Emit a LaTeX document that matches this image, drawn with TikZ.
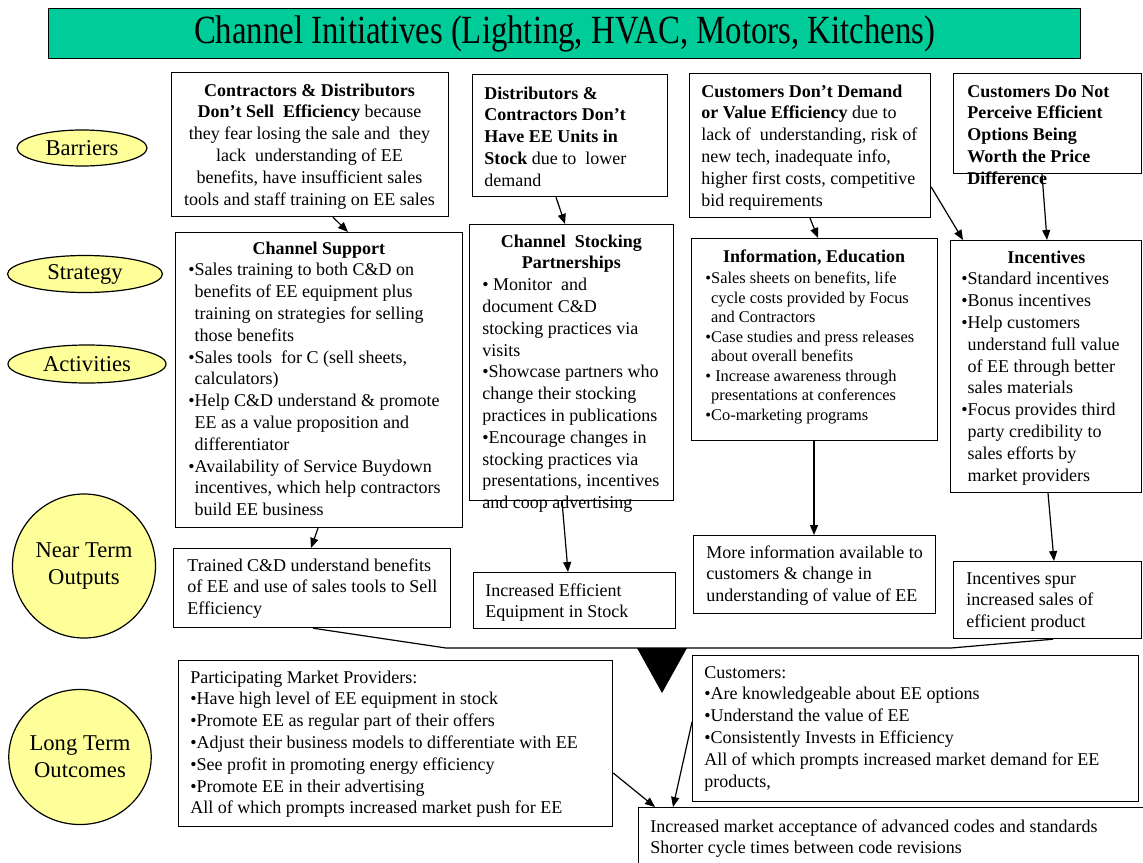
\documentclass[tikz,border=0pt]{standalone}
\usepackage{fontspec}
\setmainfont{Liberation Serif}
\usetikzlibrary{shapes.geometric,arrows.meta,calc}
\definecolor{titlegreen}{HTML}{00CC99}
\definecolor{ellyellow}{HTML}{FFFF99}
\newcommand\bt{\fontsize{9}{10.9}\selectfont}
\newcommand\sm{\fontsize{8.2}{9.75}\selectfont}
\newcommand\tb[3]{\parbox[t]{#1}{#2\raggedright\strut #3}}
\newcommand\hg{\phantom{•}}
\begin{document}
\begin{tikzpicture}[x=0.5pt,y=-0.5pt,
  frame/.style={draw, line width=0.6pt, inner sep=0pt, anchor=north west},
  txt/.style={inner sep=0pt, anchor=base west, font=\bt},
  ell/.style={ellipse, draw, line width=0.6pt, fill=ellyellow, inner sep=0pt, align=center, font=\fontsize{11.3}{13.5}\selectfont},
  conn/.style={line width=0.6pt},
  arr/.style={conn, -{Triangle[length=5pt,width=4pt]}}]
\useasboundingbox (0,0) rectangle (1143,862);
\clip (0,0) rectangle (1143,862);
% title
\node[draw, fill=titlegreen, line width=0.6pt, anchor=north west, minimum width=516pt, minimum height=25pt, inner sep=0pt] (title) at (48,8)
  {\scalebox{0.82}[1]{\fontsize{20}{24}\selectfont Channel Initiatives (Lighting, HVAC, Motors, Kitchens)}};
% row labels
\node[ell, minimum width=65pt, minimum height=18pt] (eb) at (82,148) {Barriers};
\node[ell, minimum width=77.5pt, minimum height=18.5pt] (es) at (85,274) {Strategy};
\node[ell, minimum width=79pt, minimum height=19pt] (ea) at (87,364) {Activities};
\node[ell, minimum width=71.5pt, minimum height=72pt] (en) at (84,566) {Near Term\\Outputs};
\node[ell, minimum width=68pt, minimum height=67.5pt] (el) at (80,757) {Long Term\\Outcomes};
% frames
\node[frame, minimum width=138.5pt, minimum height=72pt] (b1) at (171,72) {};
\node[frame, minimum width=97.5pt, minimum height=61pt] (b2) at (472,74) {};
\node[frame, minimum width=120.5pt, minimum height=72pt] (b3) at (689,73) {};
\node[frame, minimum width=94pt, minimum height=50pt] (b4) at (953,73) {};
\node[frame, minimum width=143.5pt, minimum height=147.5pt] (s1) at (175,232) {};
\node[frame, minimum width=102pt, minimum height=138pt] (s2) at (469,224) {};
\node[frame, minimum width=123pt, minimum height=101pt] (s3) at (691,238) {};
\node[frame, minimum width=95.5pt, minimum height=126pt] (s4) at (950,240) {};
\node[frame, minimum width=138.5pt, minimum height=39.5pt] (o1) at (173,548) {};
\node[frame, minimum width=101pt, minimum height=28pt] (o2) at (473,572) {};
\node[frame, minimum width=121pt, minimum height=39pt] (o3) at (693,535) {};
\node[frame, minimum width=94pt, minimum height=38.5pt] (o4) at (953,561) {};
\node[frame, minimum width=217pt, minimum height=83pt] (l1) at (178,660) {};
\node[frame, minimum width=223pt, minimum height=73pt] (l2) at (692,655) {};
\node[frame, minimum width=270pt, minimum height=40pt] (l3) at (638,807) {};
% texts
\node[txt, anchor=base] (b1t) at (309.5,96) {\tb{180pt}{\bt}{\centering\textbf{Contractors \& Distributors}\\ \textbf{Don’t Sell\ \ Efficiency} because\\ they fear losing the sale and\ \ they\\ lack\ \ understanding of EE\\ benefits, have insufficient sales\\ tools and staff training on EE sales}};
\node[txt] (b2t) at (484,99) {\tb{150pt}{\bt}{\textbf{Distributors \&}\\ \textbf{Contractors Don’t}\\ \textbf{Have EE Units in}\\ \textbf{Stock} due to\ \ lower\\ demand}};
\node[txt] (b3t) at (701,97) {\tb{150pt}{\bt}{\textbf{Customers Don’t Demand}\\ \textbf{or Value Efficiency} due to\\ lack of\ \ understanding, risk of\\ new tech, inadequate info,\\ higher first costs, competitive\\ bid requirements}};
\node[txt] (b4t) at (967,97) {\tb{150pt}{\bt}{\textbf{Customers Do Not}\\ \textbf{Perceive Efficient}\\ \textbf{Options Being}\\ \textbf{Worth the Price}\\ \textbf{Difference}}};
\node[txt] (s1t) at (188,254) {\tb{170pt}{\bt}{\makebox[130.5pt]{\textbf{Channel Support}}\\
 •Sales training to both C\&D on\\ \hg benefits of EE equipment plus\\ \hg training on strategies for selling\\ \hg those benefits\\
 •Sales tools\ \ for C (sell sheets,\\ \hg calculators)\\
 •Help C\&D understand \& promote\\ \hg EE as a value proposition and\\ \hg differentiator\\
 •Availability of Service Buydown\\ \hg incentives, which help contractors\\ \hg build EE business}};
\node[txt] (s2t) at (482,247) {\tb{150pt}{\bt}{\makebox[89pt]{\textbf{Channel\ \ Stocking}}\\ \makebox[89pt]{\textbf{Partnerships}}\\
 • Monitor\ \ and\\ document C\&D\\ stocking practices via\\ visits\\
 •Showcase partners who\\ change their stocking\\ practices in publications\\
 •Encourage changes in\\ stocking practices via\\ presentations, incentives\\ and coop advertising}};
\node[txt, anchor=base] (s3h) at (814,262) {\textbf{Information, Education}};
\node[txt] (s3t) at (705,283.5) {\tb{150pt}{\sm}{•Sales sheets on benefits, life\\ \hg cycle costs provided by Focus\\ \hg and Contractors\\
 •Case studies and press releases\\ \hg about overall benefits\\
 •\ Increase awareness through\\ \hg presentations at conferences\\
 •Co-marketing programs}};
\node[txt] (s4t) at (961,263) {\tb{150pt}{\bt}{\makebox[85pt]{\textbf{Incentives}}\\
 •Standard incentives\\ •Bonus incentives\\
 •Help customers\\ \hg understand full value\\ \hg of EE through better\\ \hg sales materials\\
 •Focus provides third\\ \hg party credibility to\\ \hg sales efforts by\\ \hg market providers}};
\node[txt] (o1t) at (187,571) {\tb{170pt}{\bt}{Trained C\&D understand benefits\\ of EE and use of sales tools to Sell\\ Efficiency}};
\node[txt] (o2t) at (485,596) {\tb{150pt}{\bt}{Increased Efficient\\ Equipment in Stock}};
\node[txt] (o3t) at (706,558) {\tb{150pt}{\bt}{More information available to\\ customers \& change in\\ understanding of value of EE}};
\node[txt] (o4t) at (966,584) {\tb{150pt}{\bt}{Incentives spur\\ increased sales of\\ efficient product}};
\node[txt] (l1t) at (190,683) {\tb{260pt}{\bt}{Participating Market Providers:\\ •Have high level of EE equipment in stock\\ •Promote EE as regular part of their offers\\ •Adjust their business models to differentiate with EE\\ •See profit in promoting energy efficiency\\ •Promote EE in their advertising\\ All of which prompts increased market push for EE}};
\node[txt] (l2t) at (704,678) {\tb{260pt}{\bt}{Customers:\\ •Are knowledgeable about EE options\\ •Understand the value of EE\\ •Consistently Invests in Efficiency\\ All of which prompts increased market demand for EE\\ products,}};
\node[txt] (l3t) at (650,832) {\tb{280pt}{\bt}{Increased market acceptance of advanced codes and standards\\ Shorter cycle times between code revisions}};
% connectors
\draw[arr] ([xshift=81pt]b1.south west) -- ([xshift=86.5pt]s1.north west);
\draw[arr] ([xshift=42pt]b2.south west) -- ([xshift=48pt]s2.north west);
\draw[arr] ([xshift=60.5pt]b3.south west) -- ([xshift=63.5pt]s3.north west);
\draw[arr] ([yshift=-57pt]b3.north east) -- ([xshift=6.5pt]s4.north west);
\draw[arr] ([xshift=44.5pt]b4.south west) -- ([xshift=48.5pt]s4.north west);
\draw[arr] ([xshift=71.5pt]s1.south west) -- ([xshift=69pt]o1.north west);
\draw[arr] ([xshift=46.5pt]s2.south west) -- ([xshift=47.5pt]o2.north west);
\draw[arr] ([xshift=61.5pt]s3.south west) -- ([xshift=60.5pt]o3.north west);
\draw[arr] ([xshift=49pt]s4.south west) -- ([xshift=50.5pt]o4.north west);
\coordinate (f1) at (446,648);
\coordinate (f2) at (951,648);
\draw[conn] ([xshift=70pt]o1.south west) -- (f1) -- (f2) -- ([xshift=50pt]o4.south west);
\coordinate (t1) at (637,648);
\coordinate (t2) at (687,648);
\coordinate (t3) at (662,693);
\fill (t1) -- (t2) -- (t3) -- cycle;
\draw[arr] ([yshift=-56.5pt]l1.north east) -- ([xshift=8.5pt]l3.north west);
\draw[arr] ([yshift=-33.5pt]l2.north west) -- ([xshift=17.5pt]l3.north west);
\end{tikzpicture}
\end{document}
